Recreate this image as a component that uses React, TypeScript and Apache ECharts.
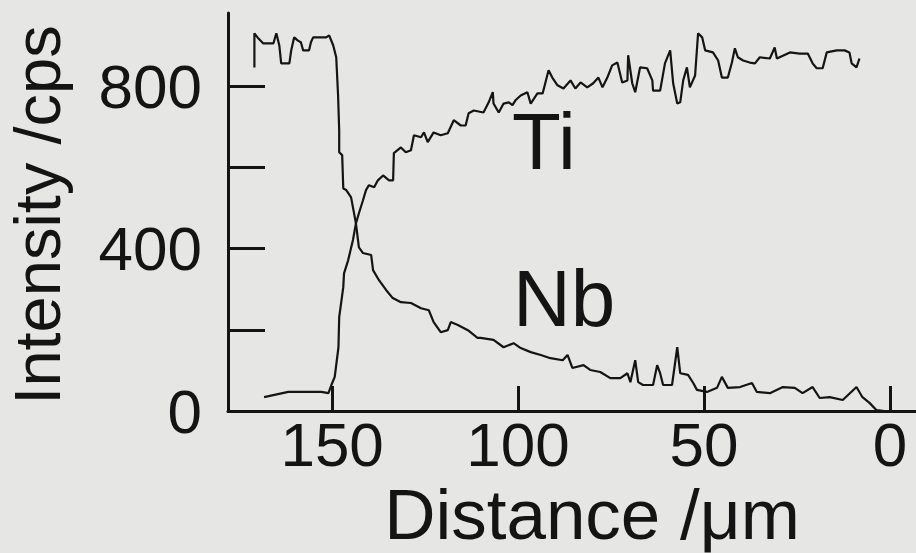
import React, { useEffect, useRef } from "react";
import * as echarts from "echarts";

// Nb line profile (distance in µm, intensity in cps)
const nbDistance = [
  170.9, 170.9, 169.8, 168.5, 165.8, 165.0, 164.2, 163.7, 161.5, 161.0, 160.2, 159.2, 158.4, 157.8, 156.2,
  155.7, 155.1, 151.6, 150.8, 149.7, 148.9, 148.4, 148.1, 148.1, 147.3, 147.0, 146.2, 144.9, 143.6, 142.8,
  141.7, 139.5, 139.0, 137.4, 135.5, 133.7, 131.5, 128.8, 126.1, 124.0, 122.7, 120.8, 118.9, 118.1, 116.2,
  113.5, 110.9, 110.1, 106.6, 103.9, 101.2, 99.3, 96.6, 93.9, 91.3, 88.0, 86.7, 85.4, 82.4, 80.6,
  77.9, 75.2, 72.5, 70.6, 69.8, 68.5, 67.7, 66.4, 63.7, 62.6, 61.8, 61.0, 58.6, 57.2, 56.4,
  54.3, 52.9, 51.9, 49.2, 46.5, 45.2, 43.6, 40.3, 37.1, 35.8, 32.3, 28.8, 25.6, 23.5, 20.8,
  18.9, 16.2, 12.7, 9.0, 7.4, 5.5, 3.6, 1.5,
];
const nbIntensity = [
  846, 930, 917, 905, 905, 930, 900, 856, 856, 888, 920, 912, 908, 888, 888,
  908, 920, 920, 925, 900, 871, 777, 691, 637, 630, 548, 544, 526, 462, 403,
  389, 384, 347, 322, 298, 278, 268, 266, 253, 248, 219, 194, 199, 219, 212,
  199, 180, 180, 175, 157, 167, 155, 145, 138, 130, 125, 138, 106, 113, 101,
  96, 81, 81, 93, 71, 125, 71, 64, 64, 113, 93, 64, 64, 157, 93,
  89, 69, 52, 47, 57, 84, 57, 59, 69, 47, 44, 59, 57, 44, 59,
  32, 34, 27, 59, 34, 20, 2, 0,
];

// Ti line profile
const tiDistance = [
  168.3, 161.8, 152.9, 151.0, 150.2, 149.3, 148.3, 148.1, 147.0, 146.8, 145.7, 144.4, 143.6, 142.8, 141.7,
  140.9, 140.1, 138.7, 137.7, 136.3, 134.7, 133.6, 133.4, 131.5, 130.2, 128.8, 128.0, 126.1, 125.3, 124.3,
  122.7, 120.8, 118.9, 117.3, 115.4, 114.1, 113.3, 111.9, 109.3, 107.9, 106.8, 106.6, 105.2, 103.9, 102.5,
  101.5, 100.7, 99.3, 97.5, 96.6, 94.8, 93.4, 91.8, 90.8, 89.4, 87.8, 85.9, 84.6, 83.2, 81.4,
  79.8, 78.4, 77.3, 76.0, 74.7, 73.3, 72.0, 70.6, 70.4, 69.3, 68.5, 67.2, 65.3, 63.9, 63.7,
  61.8, 60.5, 59.1, 58.3, 57.2, 56.4, 55.6, 54.6, 53.8, 52.4, 51.6, 50.5, 49.7, 47.6, 46.2,
  45.2, 43.6, 42.5, 41.7, 40.9, 39.5, 37.7, 36.3, 35.0, 32.3, 31.0, 30.4, 26.9, 24.3, 22.1,
  20.8, 19.7, 18.1, 17.0, 14.3, 12.2, 10.9, 10.3, 9.0, 8.2,
];
const tiIntensity = [
  34, 47, 47, 44, 64, 84, 157, 231, 305, 339, 371, 421, 462, 487, 519,
  544, 556, 551, 568, 580, 568, 568, 635, 649, 637, 642, 679, 674, 686, 662,
  686, 679, 684, 716, 703, 703, 733, 740, 735, 760, 785, 757, 735, 757, 760,
  753, 765, 777, 785, 757, 782, 782, 839, 821, 802, 794, 814, 794, 809, 797,
  807, 821, 797, 821, 851, 858, 809, 814, 876, 807, 785, 846, 844, 814, 789,
  789, 856, 888, 807, 757, 760, 814, 846, 797, 826, 930, 920, 888, 883, 863,
  821, 821, 858, 893, 871, 863, 858, 856, 871, 868, 895, 868, 883, 880, 880,
  856, 844, 844, 883, 888, 888, 883, 856, 846, 868,
];

const xTickValues = [150, 100, 50, 0];
const yTickValues = [0, 200, 400, 600, 800];
const yLabelValues = [0, 400, 800];
const seriesNames = ["Nb", "Ti"];
const xTitle = "Distance /\u03bcm";
const yTitle = "Intensity /cps";

export default function App() {
  const ref = useRef<HTMLDivElement>(null);
  useEffect(() => {
    const chart = echarts.init(ref.current as HTMLDivElement, null, { renderer: "svg" });
    const font = "'Liberation Sans', Arial, Helvetica, sans-serif";
    const ink = "#141414";
    const nbData = nbDistance.map((d, i) => [d, nbIntensity[i]]);
    const tiData = tiDistance.map((d, i) => [d, tiIntensity[i]]);
    chart.setOption({
      animation: false,
      backgroundColor: "#e6e6e4",
      grid: { left: 228, right: 0, top: 13, bottom: 142 },
      xAxis: {
        type: "value",
        inverse: true,
        min: -7,
        max: 178,
        position: "bottom",
        axisLine: { show: true, onZero: false, lineStyle: { color: ink, width: 3 } },
        axisTick: { show: true, inside: true, length: 25, customValues: xTickValues, lineStyle: { color: ink, width: 3 } },
        axisLabel: { show: true, customValues: xTickValues, fontSize: 62, color: ink, fontFamily: font, margin: 2 },
        splitLine: { show: false },
      },
      yAxis: {
        type: "value",
        min: 0,
        max: 980,
        position: "left",
        axisLine: { show: true, onZero: false, lineStyle: { color: ink, width: 3 } },
        axisTick: { show: true, inside: true, length: 37, customValues: yTickValues, lineStyle: { color: ink, width: 3 } },
        axisLabel: { show: true, customValues: yLabelValues, fontSize: 62, color: ink, fontFamily: font, margin: 26 },
        splitLine: { show: false },
      },
      series: [
        { name: seriesNames[0], type: "line", data: nbData, showSymbol: false, lineStyle: { color: ink, width: 2.2 } },
        { name: seriesNames[1], type: "line", data: tiData, showSymbol: false, lineStyle: { color: ink, width: 2.2 } },
      ],
      graphic: [
        { type: "text", x: 512, y: 141, style: { text: seriesNames[1], font: `80px ${font}`, fill: ink, verticalAlign: "middle", align: "left" } },
        { type: "text", x: 513, y: 298, style: { text: seriesNames[0], font: `80px ${font}`, fill: ink, verticalAlign: "middle", align: "left" } },
        { type: "text", x: 37, y: 215, rotation: Math.PI / 2, style: { text: yTitle, font: `65px ${font}`, fill: ink, verticalAlign: "middle", align: "center" } },
        { type: "text", x: 592, y: 514, style: { text: xTitle, font: `71px ${font}`, fill: ink, verticalAlign: "middle", align: "center" } },
      ],
    });
    return () => chart.dispose();
  }, []);
  return <div ref={ref} style={{ position: "fixed", left: 0, top: 0, width: 916, height: 553 }} />;
}
